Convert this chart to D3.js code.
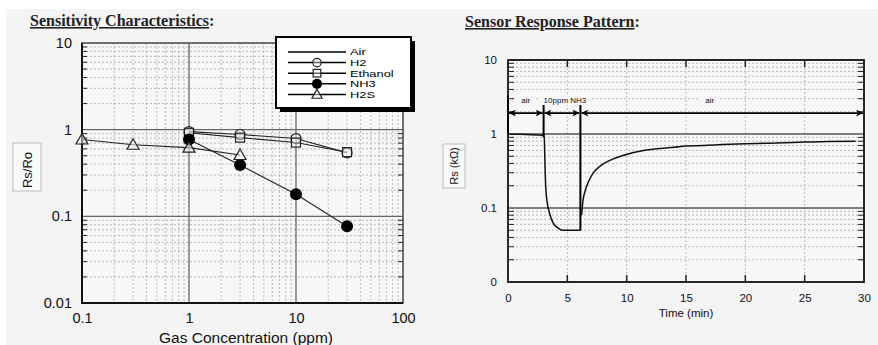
<!DOCTYPE html>
<html>
<head>
<meta charset="utf-8">
<script src="https://cdn.jsdelivr.net/npm/d3@7"></script>
<style>
  body { margin: 0; background: #fff; }
  svg { display: block; font-family: "Liberation Sans", Arial, sans-serif; }
</style>
</head>
<body>
<div id="chart"></div>
<script>
// ---- data: sensitivity characteristics (Rs/Ro vs ppm) ----
const concH2 = [1, 3, 10, 30];
const valH2 = [0.95, 0.88, 0.79, 0.54];
const concEthanol = [1, 3, 10, 30];
const valEthanol = [0.92, 0.81, 0.71, 0.55];
const concNH3 = [1, 3, 10, 30];
const valNH3 = [0.77, 0.39, 0.18, 0.077];
const concH2S = [0.1, 0.3, 1, 3];
const valH2S = [0.77, 0.67, 0.62, 0.51];
const legendNames = ["Air", "H2", "Ethanol", "NH3", "H2S"];
const xTicksLeft = [0.1, 1, 10, 100];
const yTicksLeft = [0.01, 0.1, 1, 10];

// ---- data: sensor response pattern (Rs vs time) ----
const respTime = [0, 1, 2, 2.5, 2.9, 3.05, 3.1, 3.15, 3.2, 3.3, 3.5, 3.8, 4.2, 4.6, 5.0, 5.5, 6.1,
  6.2, 6.3, 6.5, 6.8, 7.2, 7.6, 8.2, 9, 10, 11, 12.5, 14, 15, 16.5, 18, 20, 22, 24, 25, 27, 29.3];
const respVal = [0.99, 0.99, 0.98, 0.97, 0.96, 0.96, 0.5, 0.25, 0.17, 0.12, 0.085, 0.063, 0.054, 0.05, 0.05, 0.05, 0.05,
  0.08, 0.12, 0.17, 0.23, 0.3, 0.35, 0.41, 0.47, 0.53, 0.58, 0.63, 0.66, 0.69, 0.7, 0.72, 0.74, 0.75, 0.77, 0.78, 0.79, 0.8];
const phaseEdges = [0, 3, 6.1, 30];
const phaseLabels = ["air", "10ppm NH3", "air"];
const phaseLabelAt = [1.5, 4.8, 17];
const xTicksRight = [0, 5, 10, 15, 20, 25, 30];
const yTicksRight = [0.01, 0.1, 1, 10];
const yTickTextRight = ["0", "0.1", "1", "10"];

const W = 878, H = 345;
const svg = d3.select("#chart").append("svg").attr("width", W).attr("height", H);

svg.append("rect").attr("x", 6).attr("y", 9).attr("width", W - 6).attr("height", H - 9).attr("fill", "#f4f4f4");

const minorVals = (lo, hi) => {
  const out = [];
  for (let e = Math.log10(lo); e < Math.log10(hi); e++)
    for (let k = 2; k <= 9; k++) out.push(k * Math.pow(10, e));
  return out;
};

// ================= LEFT CHART =================
const L = {left: 82, right: 403, top: 43, bottom: 303};
const xL = d3.scaleLog().domain([0.1, 100]).range([L.left, L.right]);
const yL = d3.scaleLog().domain([0.01, 10]).range([L.bottom, L.top]);
const gL = svg.append("g");

gL.append("rect").attr("x", L.left).attr("y", L.top).attr("width", L.right - L.left).attr("height", L.bottom - L.top).attr("fill", "#f7f7f7");

// minor grid
gL.selectAll(".mx").data(minorVals(0.1, 100)).enter().append("line")
  .attr("x1", d => xL(d)).attr("x2", d => xL(d)).attr("y1", L.top).attr("y2", L.bottom)
  .attr("stroke", "#aaa").attr("stroke-width", 0.8).attr("stroke-dasharray", "2,2");
gL.selectAll(".my").data(minorVals(0.01, 10)).enter().append("line")
  .attr("y1", d => yL(d)).attr("y2", d => yL(d)).attr("x1", L.left).attr("x2", L.right)
  .attr("stroke", "#aaa").attr("stroke-width", 0.8).attr("stroke-dasharray", "2,2");
// minor ticks on left/right
gL.selectAll(".mt").data(minorVals(0.01, 10)).enter().append("path")
  .attr("d", d => `M${L.left},${yL(d)}h5M${L.right},${yL(d)}h-5`)
  .attr("stroke", "#222").attr("stroke-width", 1);
// major grid
gL.selectAll(".Mx").data([1, 10]).enter().append("line")
  .attr("x1", d => xL(d)).attr("x2", d => xL(d)).attr("y1", L.top).attr("y2", L.bottom)
  .attr("stroke", "#666").attr("stroke-width", 1.3);
gL.selectAll(".My").data([0.1, 1]).enter().append("line")
  .attr("y1", d => yL(d)).attr("y2", d => yL(d)).attr("x1", L.left).attr("x2", L.right)
  .attr("stroke", "#666").attr("stroke-width", 1.3);
// frame
gL.append("rect").attr("x", L.left).attr("y", L.top).attr("width", L.right - L.left).attr("height", L.bottom - L.top)
  .attr("fill", "none").attr("stroke", "#444").attr("stroke-width", 1.5);
gL.append("path").attr("d", `M${L.left},${L.top}V${L.bottom}H${L.right}`).attr("fill", "none").attr("stroke", "#111").attr("stroke-width", 2);

// axes labels
const axXL = gL.append("g").attr("transform", `translate(0,${L.bottom})`)
  .call(d3.axisBottom(xL).tickValues(xTicksLeft).tickFormat(d => String(d)).tickSize(0).tickPadding(10));
axXL.select(".domain").remove();
axXL.selectAll("text").attr("font-size", 14.5).attr("font-family", "Liberation Sans, Arial, sans-serif").attr("fill", "#111");
const axYL = gL.append("g").attr("transform", `translate(${L.left},0)`)
  .call(d3.axisLeft(yL).tickValues(yTicksLeft).tickFormat(d => String(d)).tickSize(0).tickPadding(10));
axYL.select(".domain").remove();
axYL.selectAll("text").attr("font-size", 14.5).attr("font-family", "Liberation Sans, Arial, sans-serif").attr("fill", "#111");

gL.append("text").attr("x", 246).attr("y", 343).attr("text-anchor", "middle")
  .attr("font-size", 15.5).attr("fill", "#111").text("Gas Concentration (ppm)");

gL.append("rect").attr("x", 13).attr("y", 143).attr("width", 28).attr("height", 48)
  .attr("fill", "#fafafa").attr("stroke", "#bbb").attr("stroke-width", 1);
gL.append("text").attr("transform", "translate(32,170) rotate(-90)").attr("text-anchor", "middle")
  .attr("font-size", 13).attr("fill", "#111").text("Rs/Ro");

// title
const t1 = svg.append("text").attr("x", 30).attr("y", 26).attr("font-family", "Liberation Serif, Times New Roman, serif")
  .attr("font-weight", "bold").attr("font-size", 16).attr("fill", "#222");
t1.append("tspan").attr("text-decoration", "underline").text("Sensitivity Characteristics");
t1.append("tspan").text(":");

// series
const series = [
  {name: "H2", x: concH2, y: valH2, sym: "circle"},
  {name: "Ethanol", x: concEthanol, y: valEthanol, sym: "square"},
  {name: "NH3", x: concNH3, y: valNH3, sym: "dot"},
  {name: "H2S", x: concH2S, y: valH2S, sym: "tri"}
];
const line = d3.line().x(d => xL(d[0])).y(d => yL(d[1]));
series.forEach(s => {
  const pts = s.x.map((c, i) => [c, s.y[i]]);
  gL.append("path").datum(pts).attr("d", line).attr("fill", "none").attr("stroke", "#222").attr("stroke-width", 1.1);
});
function drawSym(g, sym, cx, cy, k = 1) {
  if (sym === "circle") g.append("circle").attr("cx", cx).attr("cy", cy).attr("r", 5 * k).attr("fill", "#f4f4f4").attr("fill-opacity", 0.4).attr("stroke", "#222").attr("stroke-width", 1.2);
  if (sym === "square") g.append("rect").attr("x", cx - 4.5 * k).attr("y", cy - 4.5 * k).attr("width", 9 * k).attr("height", 9 * k).attr("fill", "#f4f4f4").attr("fill-opacity", 0.4).attr("stroke", "#222").attr("stroke-width", 1.2);
  if (sym === "dot") g.append("circle").attr("cx", cx).attr("cy", cy).attr("r", 6 * k).attr("fill", "#000");
  if (sym === "tri") g.append("path").attr("d", `M${cx},${cy - 6 * k}L${cx + 6 * k},${cy + 4.5 * k}L${cx - 6 * k},${cy + 4.5 * k}Z`).attr("fill", "#f4f4f4").attr("fill-opacity", 0.5).attr("stroke", "#222").attr("stroke-width", 1.2);
}
series.forEach(s => s.x.forEach((c, i) => drawSym(gL, s.sym, xL(c), yL(s.y[i]))));

// legend
const lg = gL.append("g");
lg.append("rect").attr("x", 280).attr("y", 41).attr("width", 135).attr("height", 71).attr("fill", "#000");
lg.append("rect").attr("x", 276).attr("y", 37).attr("width", 135).attr("height", 71).attr("fill", "#fff").attr("stroke", "#000").attr("stroke-width", 2);
const legSym = [null, "circle", "square", "dot", "tri"];
legendNames.forEach((n, i) => {
  const y = 52 + i * 10.6;
  lg.append("line").attr("x1", 288).attr("x2", 346).attr("y1", y).attr("y2", y).attr("stroke", "#000").attr("stroke-width", 1.5);
  if (legSym[i]) drawSym(lg, legSym[i], 317, y, 0.85);
  lg.append("text").attr("transform", `translate(350,${y + 3.4}) scale(1.4,1)`).attr("font-size", 9.2).attr("fill", "#000").text(n);
});

// ================= RIGHT CHART =================
const R = {left: 508, right: 864, top: 60, bottom: 282};
const xR = d3.scaleLinear().domain([0, 30]).range([R.left, R.right]);
const yR = d3.scaleLog().domain([0.01, 10]).range([R.bottom, R.top]);
const gR = svg.append("g");

gR.append("rect").attr("x", R.left).attr("y", R.top).attr("width", R.right - R.left).attr("height", R.bottom - R.top).attr("fill", "#f7f7f7");
gR.selectAll(".mx").data(xTicksRight.slice(1, -1)).enter().append("line")
  .attr("x1", d => xR(d)).attr("x2", d => xR(d)).attr("y1", R.top).attr("y2", R.bottom)
  .attr("stroke", "#aaa").attr("stroke-width", 0.8).attr("stroke-dasharray", "2,2");
gR.selectAll(".my").data(minorVals(0.01, 10)).enter().append("line")
  .attr("y1", d => yR(d)).attr("y2", d => yR(d)).attr("x1", R.left).attr("x2", R.right)
  .attr("stroke", "#aaa").attr("stroke-width", 0.8).attr("stroke-dasharray", "2,2");
gR.selectAll(".mt").data(minorVals(0.01, 10)).enter().append("path")
  .attr("d", d => `M${R.left},${yR(d)}h6M${R.right},${yR(d)}h-6`)
  .attr("stroke", "#222").attr("stroke-width", 1);
gR.selectAll(".xt").data(xTicksRight.slice(1, -1)).enter().append("path")
  .attr("d", d => `M${xR(d)},${R.bottom}v-7M${xR(d)},${R.top}v7`)
  .attr("stroke", "#222").attr("stroke-width", 1.5);
gR.selectAll(".My").data([0.1, 1]).enter().append("line")
  .attr("y1", d => yR(d)).attr("y2", d => yR(d)).attr("x1", R.left).attr("x2", R.right)
  .attr("stroke", "#555").attr("stroke-width", 1.3);
gR.append("rect").attr("x", R.left).attr("y", R.top).attr("width", R.right - R.left).attr("height", R.bottom - R.top)
  .attr("fill", "none").attr("stroke", "#111").attr("stroke-width", 1.8);

const axXR = gR.append("g").attr("transform", `translate(0,${R.bottom})`)
  .call(d3.axisBottom(xR).tickValues(xTicksRight).tickSize(0).tickPadding(12));
axXR.select(".domain").remove();
axXR.selectAll("text").attr("font-size", 11.5).attr("font-family", "Liberation Sans, Arial, sans-serif").attr("fill", "#111");
const axYR = gR.append("g").attr("transform", `translate(${R.left},0)`)
  .call(d3.axisLeft(yR).tickValues(yTicksRight).tickFormat((d, i) => yTickTextRight[i]).tickSize(0).tickPadding(11));
axYR.select(".domain").remove();
axYR.selectAll("text").attr("font-size", 11.5).attr("font-family", "Liberation Sans, Arial, sans-serif").attr("fill", "#111");

gR.append("text").attr("x", xR(15)).attr("y", 317).attr("text-anchor", "middle").attr("font-size", 11.5).attr("fill", "#111").text("Time (min)");

gR.append("rect").attr("x", 443).attr("y", 144).attr("width", 22).attr("height", 44)
  .attr("fill", "#fafafa").attr("stroke", "#bbb").attr("stroke-width", 1);
gR.append("text").attr("transform", "translate(458,166) rotate(-90)").attr("text-anchor", "middle")
  .attr("font-size", 11).attr("fill", "#111").text("Rs (kΩ)");

const t2 = svg.append("text").attr("x", 465).attr("y", 27).attr("font-family", "Liberation Serif, Times New Roman, serif")
  .attr("font-weight", "bold").attr("font-size", 16).attr("fill", "#222");
t2.append("tspan").attr("text-decoration", "underline").text("Sensor Response Pattern");
t2.append("tspan").text(":");

// phase markers and arrows
const arrowY = yR(1.92), markTop = yR(3.3);
gR.selectAll(".pm").data(phaseEdges.slice(0, 3)).enter().append("line")
  .attr("x1", d => xR(d)).attr("x2", d => xR(d)).attr("y1", markTop)
  .attr("y2", (d, i) => i === 0 ? yR(1) : (i === 1 ? yR(0.9) : yR(0.05)))
  .attr("stroke", "#000").attr("stroke-width", 2);
const defs = svg.append("defs");
defs.append("marker").attr("id", "ah").attr("viewBox", "0 0 10 10").attr("refX", 10).attr("refY", 5)
  .attr("markerWidth", 13).attr("markerHeight", 7).attr("markerUnits", "userSpaceOnUse").attr("orient", "auto-start-reverse")
  .append("path").attr("d", "M0,0L10,5L0,10L3,5Z").attr("fill", "#000");
phaseLabels.forEach((lab, i) => {
  const a = xR(phaseEdges[i]) + 1, b = xR(phaseEdges[i + 1]) - 1;
  gR.append("line").attr("x1", a).attr("x2", b).attr("y1", arrowY).attr("y2", arrowY)
    .attr("stroke", "#000").attr("stroke-width", 1.8)
    .attr("marker-start", "url(#ah)").attr("marker-end", "url(#ah)");
  const cx = xR(phaseLabelAt[i]);
  gR.append("rect").attr("x", cx - lab.length * 2.7 - 2).attr("y", 95).attr("width", lab.length * 5.4 + 4).attr("height", 10).attr("fill", "#f7f7f7");
  gR.append("text").attr("x", cx).attr("y", 103).attr("text-anchor", "middle").attr("font-size", 8).attr("fill", "#111").text(lab);
});

// response curve
const respPts = respTime.map((t, i) => [t, respVal[i]]);
const splitAt = respTime.indexOf(6.1) + 1;
const rLine = d3.line().x(d => xR(d[0])).y(d => yR(d[1])).curve(d3.curveMonotoneX);
[respPts.slice(0, splitAt), respPts.slice(splitAt)].forEach(seg => {
  gR.append("path").datum(seg).attr("d", rLine).attr("fill", "none").attr("stroke", "#111").attr("stroke-width", 1.5);
});
</script>
</body>
</html>
